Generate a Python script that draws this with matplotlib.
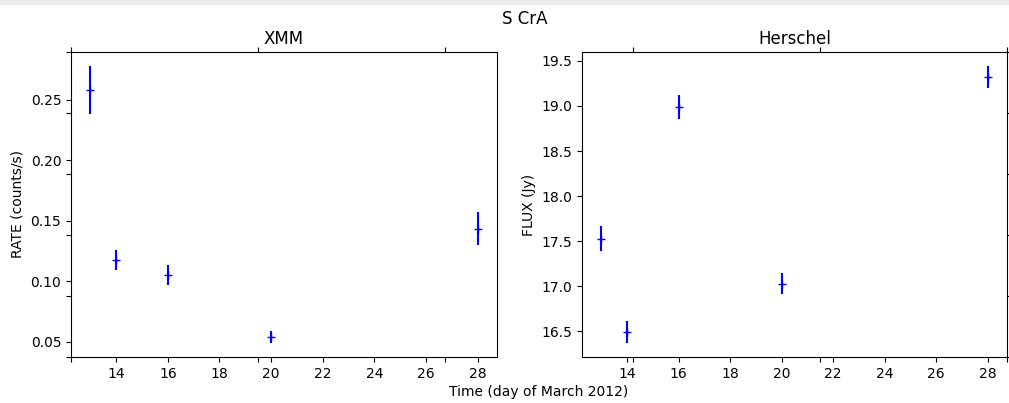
import matplotlib
matplotlib.use("Agg")
import matplotlib.pyplot as plt
from matplotlib.patches import Rectangle

# Observation days (March 2012)
days = [13, 14, 16, 20, 28]

# XMM count rate and uncertainty
xmm_rate = [0.258, 0.1176, 0.105, 0.054, 0.1436]
xmm_err = [0.020, 0.0083, 0.0083, 0.005, 0.0134]

# Herschel flux and uncertainty
hers_flux = [17.53, 16.49, 18.99, 17.03, 19.32]
hers_err = [0.14, 0.12, 0.13, 0.12, 0.125]

W, H = 1009, 403
fig = plt.figure(figsize=(W / 100, H / 100), dpi=100)

# thin grey strip along the top edge
fig.patches.append(Rectangle((0, 1 - 4.5 / H), 1, 4.5 / H, transform=fig.transFigure,
                             facecolor="#ececec", edgecolor="none", zorder=0))


def px(x0, y0, x1, y1):
    return [x0 / W, 1 - y1 / H, (x1 - x0) / W, (y1 - y0) / H]


ax1 = fig.add_axes(px(71, 52, 497, 357))
ax2 = fig.add_axes(px(582, 52, 1007, 357))

ax1.errorbar(days, xmm_rate, yerr=xmm_err, fmt="b+")
ax1.set_title("XMM", fontsize=12)
ax1.set_ylabel("RATE (counts/s)")
ax1.set_xticks([14, 16, 18, 20, 22, 24, 26, 28])

ax2.errorbar(days, hers_flux, yerr=hers_err, fmt="b+")
ax2.set_title("Herschel", fontsize=12)
ax2.set_ylabel("FLUX (Jy)")
ax2.set_xticks([14, 16, 18, 20, 22, 24, 26, 28])

# frameless overlay axes spanning both panels; only its tick marks show
big = fig.add_axes(px(71, 52, 1007, 357), frameon=False)
big.tick_params(top=True, bottom=True, left=True, right=True,
                labelbottom=False, labelleft=False)

# shared x label
fig.text(539 / W, 1 - 392 / H, "Time (day of March 2012)", ha="center", va="center")

fig.text(524.5 / W, 1 - 18.5 / H, "S CrA", ha="center", va="center", fontsize=12)

fig.savefig("out.png", dpi=100)
